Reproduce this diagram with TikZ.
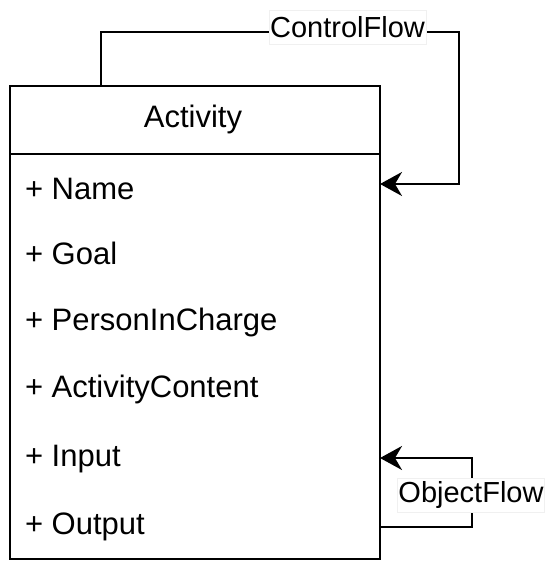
\documentclass[tikz,border=0pt]{standalone}
\usepackage{fontspec}
\setmainfont{Liberation Sans}
\usetikzlibrary{arrows.meta}
\begin{document}
\begin{tikzpicture}[x=1pt,y=-1pt,
  line width=2pt,
  attr/.style={anchor=west, inner sep=0pt, font=\fontsize{31}{36}\selectfont},
  lbl/.style={fill=white, draw=black!6, line width=0.6pt, inner sep=1pt, minimum height=34pt, font=\fontsize{29}{33}\selectfont},
  arr/.style={-{Stealth[length=22pt,width=24pt,inset=7pt]}}]
\useasboundingbox (0,0) rectangle (550,569);
\node[draw, minimum width=370pt, minimum height=473pt, anchor=north west, inner sep=0pt] (box) at (9,85) {};
\draw (9,154) -- (379,154);
\node[font=\fontsize{31}{36}\selectfont] (title) at (193,119) {Activity};
\node[attr] (a1) at (24,189) {+ Name};
\node[attr] (a2) at (24,253) {+ Goal};
\node[attr] (a3) at (24,322) {+ PersonInCharge};
\node[attr] (a4) at (24,389) {+ ActivityContent};
\node[attr] (a5) at (24,459) {+ Input};
\node[attr] (a6) at (24,527) {+ Output};
\coordinate (cfs) at (101,85);
\coordinate (cft) at (380,184);
\coordinate (ofs) at (379,527);
\coordinate (oft) at (380,458);
\draw[arr] (cfs) -- (101,32) -- (459,32) -- (459,184) -- (cft);
\node[lbl] (cfl) at (347.5,27) {ControlFlow};
\draw[arr] (ofs) -- (472,527) -- (472,458) -- (oft);
\node[lbl] (ofl) at (471,495) {ObjectFlow};
\end{tikzpicture}
\end{document}
